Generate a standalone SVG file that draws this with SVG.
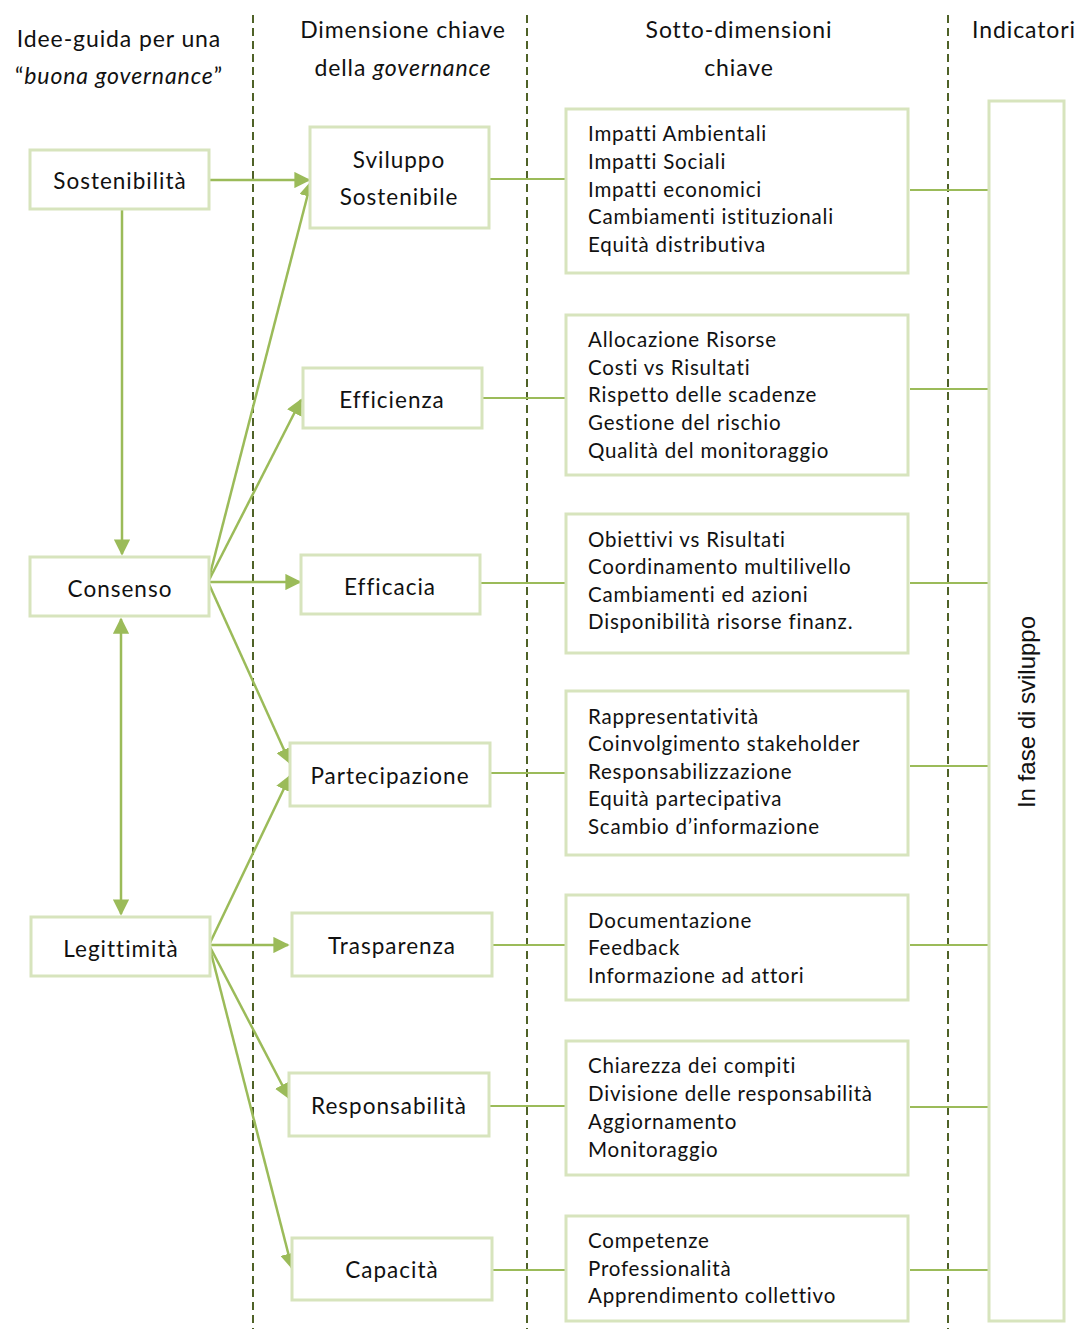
<svg xmlns="http://www.w3.org/2000/svg" width="1078" height="1329" viewBox="0 0 1078 1329">
<style>
.bx{fill:#fff;stroke:#d7e4bd;stroke-width:3}
.t{font-family:Lato,"Noto Sans",sans-serif;font-size:22.5px;letter-spacing:1px;fill:#111;text-anchor:middle;font-variant-ligatures:none}
.h{font-family:Lato,"Noto Sans",sans-serif;font-size:23px;letter-spacing:0.9px;fill:#111;text-anchor:middle;font-variant-ligatures:none}
.l{font-family:Lato,"Noto Sans",sans-serif;font-size:20.5px;letter-spacing:0.8px;fill:#111;font-variant-ligatures:none}
.ar{stroke:#9bbb59;stroke-width:2.5;fill:none}
.ln{stroke:#9bbb59;stroke-width:2;fill:none}
.dash{stroke:#4f6228;stroke-width:2;stroke-dasharray:8,5;fill:none}
</style>
<defs>
<marker id="ah" viewBox="0 0 10 10" refX="9" refY="5" markerWidth="6.5" markerHeight="6.5" orient="auto-start-reverse" markerUnits="strokeWidth">
<path d="M0,0 L10,5 L0,10 z" fill="#9bbb59"/>
</marker>
</defs>
<rect width="1078" height="1329" fill="#fff"/>
<g id="dividers">
<line class="dash" x1="253" y1="15" x2="253" y2="1329"/>
<line class="dash" x1="527" y1="15" x2="527" y2="1329"/>
<line class="dash" x1="948" y1="15" x2="948" y2="1329"/>
</g>
<g id="headers">
<text class="h" x="119" y="47">Idee-guida per una</text>
<text class="h" x="119" y="84">“<tspan font-style="italic">buona governance</tspan>”</text>
<text class="h" x="403" y="38">Dimensione chiave</text>
<text class="h" x="403" y="76">della <tspan font-style="italic">governance</tspan></text>
<text class="h" x="739" y="38">Sotto-dimensioni</text>
<text class="h" x="739" y="76">chiave</text>
<text class="h" x="1024" y="38">Indicatori</text>
</g>
<g id="connectors">
<line class="ar" x1="209" y1="180" x2="309" y2="180" marker-end="url(#ah)"/>
<line class="ar" x1="122" y1="209" x2="122" y2="554" marker-end="url(#ah)"/>
<line class="ar" x1="121" y1="619" x2="121" y2="914" marker-start="url(#ah)" marker-end="url(#ah)"/>
<line class="ar" x1="208" y1="582" x2="311" y2="182" marker-end="url(#ah)"/>
<line class="ar" x1="208" y1="582" x2="301" y2="400" marker-end="url(#ah)"/>
<line class="ar" x1="208" y1="582" x2="300" y2="582" marker-end="url(#ah)"/>
<line class="ar" x1="208" y1="582" x2="290" y2="763" marker-end="url(#ah)"/>
<line class="ar" x1="209" y1="945" x2="290" y2="776" marker-end="url(#ah)"/>
<line class="ar" x1="209" y1="945" x2="288" y2="945" marker-end="url(#ah)"/>
<line class="ar" x1="209" y1="945" x2="289" y2="1098" marker-end="url(#ah)"/>
<line class="ar" x1="209" y1="945" x2="292" y2="1268" marker-end="url(#ah)"/>
<line class="ln" x1="489" y1="179" x2="566" y2="179"/>
<line class="ln" x1="482" y1="398" x2="566" y2="398"/>
<line class="ln" x1="480" y1="583" x2="566" y2="583"/>
<line class="ln" x1="490" y1="773" x2="566" y2="773"/>
<line class="ln" x1="492" y1="945" x2="566" y2="945"/>
<line class="ln" x1="489" y1="1106" x2="566" y2="1106"/>
<line class="ln" x1="492" y1="1270" x2="566" y2="1270"/>
<line class="ln" x1="910" y1="190" x2="988" y2="190"/>
<line class="ln" x1="910" y1="389" x2="988" y2="389"/>
<line class="ln" x1="910" y1="583" x2="988" y2="583"/>
<line class="ln" x1="910" y1="766" x2="988" y2="766"/>
<line class="ln" x1="910" y1="945" x2="988" y2="945"/>
<line class="ln" x1="910" y1="1107" x2="988" y2="1107"/>
<line class="ln" x1="910" y1="1270" x2="988" y2="1270"/>
</g>
<g id="sostenibilita"><rect class="bx" x="30" y="150" width="179" height="59"/><text class="t" x="120" y="189">Sostenibilità</text></g>
<g id="consenso"><rect class="bx" x="30" y="557" width="179" height="59"/><text class="t" x="120" y="597">Consenso</text></g>
<g id="legittimita"><rect class="bx" x="31" y="917" width="179" height="59"/><text class="t" x="121" y="957">Legittimità</text></g>
<g id="sviluppo"><rect class="bx" x="310" y="127" width="179" height="101"/><text class="t" x="399" y="168">Sviluppo</text><text class="t" x="399" y="205">Sostenibile</text></g>
<g id="efficienza"><rect class="bx" x="303" y="368" width="179" height="60"/><text class="t" x="392" y="408">Efficienza</text></g>
<g id="efficacia"><rect class="bx" x="301" y="555" width="179" height="59"/><text class="t" x="390" y="595">Efficacia</text></g>
<g id="partecipazione"><rect class="bx" x="290" y="743" width="200" height="63"/><text class="t" x="390" y="784">Partecipazione</text></g>
<g id="trasparenza"><rect class="bx" x="292" y="913" width="200" height="63"/><text class="t" x="392" y="954">Trasparenza</text></g>
<g id="responsabilita"><rect class="bx" x="289" y="1073" width="200" height="63"/><text class="t" x="389" y="1114">Responsabilità</text></g>
<g id="capacita"><rect class="bx" x="292" y="1238" width="200" height="62"/><text class="t" x="392" y="1278">Capacità</text></g>
<g id="sub1"><rect class="bx" x="566" y="109" width="342" height="164"/>
<text class="l" x="588" y="141">Impatti Ambientali</text><text class="l" x="588" y="169">Impatti Sociali</text><text class="l" x="588" y="197">Impatti economici</text><text class="l" x="588" y="224">Cambiamenti istituzionali</text><text class="l" x="588" y="252">Equità distributiva</text></g>
<g id="sub2"><rect class="bx" x="566" y="315" width="342" height="160"/>
<text class="l" x="588" y="347">Allocazione Risorse</text><text class="l" x="588" y="375">Costi vs Risultati</text><text class="l" x="588" y="402">Rispetto delle scadenze</text><text class="l" x="588" y="430">Gestione del rischio</text><text class="l" x="588" y="458">Qualità del monitoraggio</text></g>
<g id="sub3"><rect class="bx" x="566" y="514" width="342" height="139"/>
<text class="l" x="588" y="547">Obiettivi vs Risultati</text><text class="l" x="588" y="574">Coordinamento multilivello</text><text class="l" x="588" y="602">Cambiamenti ed azioni</text><text class="l" x="588" y="629">Disponibilità risorse finanz.</text></g>
<g id="sub4"><rect class="bx" x="566" y="691" width="342" height="164"/>
<text class="l" x="588" y="724">Rappresentatività</text><text class="l" x="588" y="751">Coinvolgimento stakeholder</text><text class="l" x="588" y="779">Responsabilizzazione</text><text class="l" x="588" y="806">Equità partecipativa</text><text class="l" x="588" y="834">Scambio d’informazione</text></g>
<g id="sub5"><rect class="bx" x="566" y="895" width="342" height="105"/>
<text class="l" x="588" y="928">Documentazione</text><text class="l" x="588" y="955">Feedback</text><text class="l" x="588" y="983">Informazione ad attori</text></g>
<g id="sub6"><rect class="bx" x="566" y="1041" width="342" height="134"/>
<text class="l" x="588" y="1073">Chiarezza dei compiti</text><text class="l" x="588" y="1101">Divisione delle responsabilità</text><text class="l" x="588" y="1129">Aggiornamento</text><text class="l" x="588" y="1157">Monitoraggio</text></g>
<g id="sub7"><rect class="bx" x="566" y="1216" width="342" height="105"/>
<text class="l" x="588" y="1248">Competenze</text><text class="l" x="588" y="1276">Professionalità</text><text class="l" x="588" y="1303">Apprendimento collettivo</text></g>
<g id="indicatori"><rect class="bx" x="989" y="101" width="75" height="1220"/>
<text font-family="'Liberation Sans',Arial,sans-serif" font-size="24" fill="#111" text-anchor="middle" transform="translate(1035,712) rotate(-90)">In fase di sviluppo</text></g>
</svg>
